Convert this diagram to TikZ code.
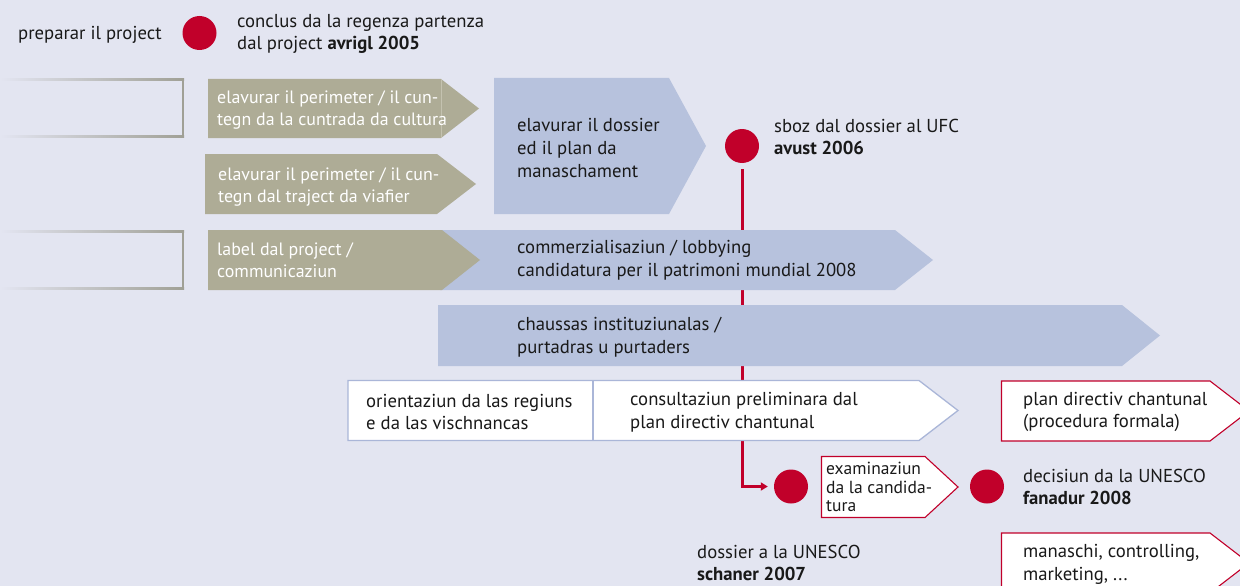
\documentclass[tikz,border=0pt]{standalone}
\usepackage{fontspec}
\setmainfont{PT Sans}
\usetikzlibrary{arrows.meta}
\definecolor{bg}{RGB}{227,229,241}
\definecolor{bluef}{RGB}{183,194,221}
\definecolor{bluel}{RGB}{170,182,216}
\definecolor{khaki}{RGB}{174,172,150}
\definecolor{khakil}{RGB}{196,194,176}
\definecolor{redc}{RGB}{193,0,42}
\definecolor{ink}{RGB}{25,25,25}
\definecolor{gborder}{RGB}{160,160,150}
\tikzset{
  txt/.style={anchor=west, inner sep=0pt, align=left, text=ink, font=\fontsize{18.7}{22.8}\selectfont},
  wtxt/.style={anchor=west, inner sep=0pt, align=left, text=white, font=\fontsize{17.9}{21.5}\selectfont},
  stxt/.style={anchor=west, inner sep=0pt, align=left, text=ink, font=\fontsize{17.5}{18.5}\selectfont},
  dot/.style={circle, fill=redc, minimum size=34pt, inner sep=0pt},
  redline/.style={draw=redc, line width=3pt},
  bluebox/.style={fill=bluef},
  khakibox/.style={fill=khaki},
  whiteblue/.style={fill=white, draw=bluel, line width=1.3pt},
  whitered/.style={fill=white, draw=redc, line width=1.1pt},
}
\newcommand\leftframe[2]{%
  \shade[left color=bg, right color=gborder] (0,#1) rectangle (184,#1+2);
  \shade[left color=bg, right color=gborder] (0,#2-2) rectangle (184,#2);
  \fill[gborder] (182,#1) rectangle (184,#2);
}
\begin{document}
\begin{tikzpicture}[x=1pt,y=-1pt]
\useasboundingbox (0,0) rectangle (1240,586);
\clip (0,0) rectangle (1240,586);
\fill[bg] (0,0) rectangle (1240,586);

% dots
\node[dot] (d1) at (199.5,33) {};
\node[dot] (d2) at (742,146) {};
\node[dot] (d3) at (791,486.5) {};
\node[dot] (d4) at (987,486.5) {};

% connector (behind the bars)
\draw[redline, shorten <=6pt, shorten >=6pt, -{Triangle[length=7pt,width=8pt]}] (d2.south) |- (d3.west);

% left empty frames
\leftframe{79}{137}
\leftframe{230}{289}

% shapes
\fill[bluebox] (494,78) -- (669,78) -- (706,146) -- (669,214) -- (494,214) -- cycle;
\fill[khakibox] (208,79) -- (441,79) -- (479,108.5) -- (441,138) -- (208,138) -- cycle;
\draw[khakil, line width=0.8pt] (441,79) -- (441,138);
\fill[khakibox] (205,154) -- (437,154) -- (476,184) -- (437,214) -- (205,214) -- cycle;
\fill[bluebox] (440,230) -- (895,230) -- (933,260) -- (895,290) -- (440,290) -- cycle;
\fill[khakibox] (208,230) -- (442,230) -- (480,260) -- (442,290) -- (208,290) -- cycle;
\fill[bluebox] (438,305) -- (1122,305) -- (1160,335.5) -- (1122,366) -- (438,366) -- cycle;
\draw[whiteblue] (348,380.5) -- (919,380.5) -- (958,410.5) -- (919,440.5) -- (348,440.5) -- cycle;
\draw[bluel, line width=1.3pt] (593,380.5) -- (593,440.5);
\draw[whitered] (1001.5,381) -- (1210,381) -- (1249,411) -- (1210,441) -- (1001.5,441) -- cycle;
\draw[whitered] (1001.5,533) -- (1210,533) -- (1249,563) -- (1210,593) -- (1001.5,593) -- cycle;
\draw[whitered] (821.5,456.5) -- (925,456.5) -- (958,487) -- (925,517.5) -- (821.5,517.5) -- cycle;

% texts
\node[txt] (t1) at (18,35) {preparar il project};
\node[txt] (t2) at (237,34) {conclus da la regenza partenza\\dal project \textbf{avrigl 2005}};
\node[wtxt] (t3) at (217,110) {elavurar il perimeter / il cun-\\tegn da la cuntrada da cultura};
\node[wtxt] (t4) at (218,187) {elavurar il perimeter / il cun-\\tegn dal traject da viafier};
\node[txt] (t5) at (517,148) {elavurar il dossier\\ed il plan da\\manaschament};
\node[txt] (t6) at (774,137) {sboz dal dossier al UFC\\\textbf{avust 2006}};
\node[wtxt] (t7) at (217,260) {label dal project /\\communicaziun};
\node[txt] (t8) at (517,260) {commerzialisaziun / lobbying\\candidatura per il patrimoni mundial 2008};
\node[txt] (t9) at (517,337) {chaussas instituziunalas /\\purtadras u purtaders};
\node[txt] (t10) at (366,412) {orientaziun da las regiuns\\e da las vischnancas};
\node[txt] (t11) at (630,412) {consultaziun preliminara dal\\plan directiv chantunal};
\node[txt] (t12) at (1023,412) {plan directiv chantunal\\(procedura formala)};
\node[stxt] (t13) at (826,487) {examinaziun\\da la candida-\\tura};
\node[txt] (t14) at (1023,487) {decisiun da la UNESCO\\\textbf{fanadur 2008}};
\node[txt] (t15) at (697,563) {dossier a la UNESCO\\\textbf{schaner 2007}};
\node[txt] (t16) at (1023,564) {manaschi, controlling,\\marketing, ...};
\end{tikzpicture}
\end{document}
